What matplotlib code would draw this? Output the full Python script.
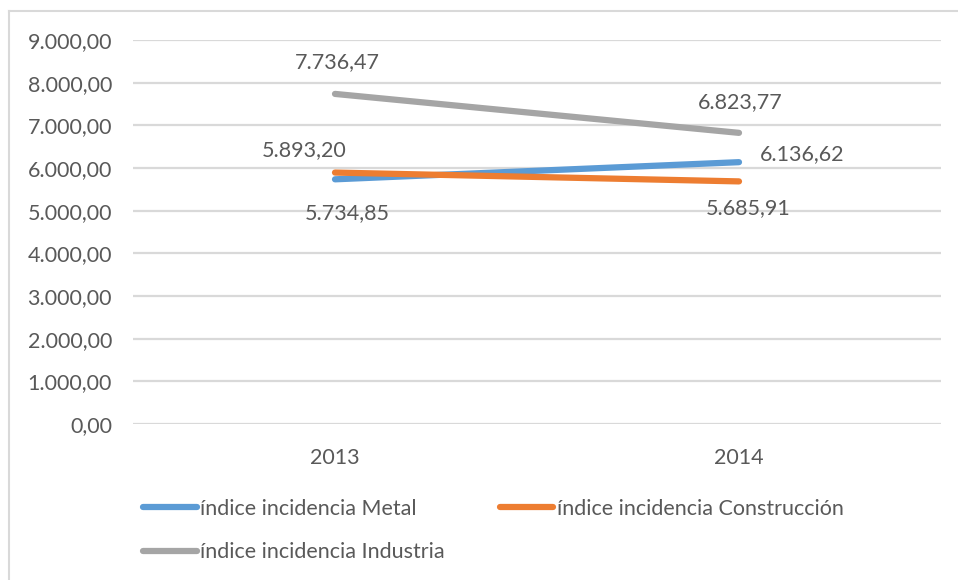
import matplotlib
matplotlib.use("Agg")
import matplotlib.pyplot as plt
from matplotlib.lines import Line2D

# ---- data ----
years = ["2013", "2014"]
metal = [5734.85, 6136.62]
construccion = [5893.20, 5685.91]
industria = [7736.47, 6823.77]
series_names = ["índice incidencia Metal", "índice incidencia Construcción", "índice incidencia Industria"]
y_ticks = [0, 1000, 2000, 3000, 4000, 5000, 6000, 7000, 8000, 9000]

# ---- style ----
colors = ["#5B9BD5", "#ED7D31", "#A5A5A5"]
text_color = "#595959"
grid_color = "#D9D9D9"
plt.rcParams['font.family'] = ['Lato', 'DejaVu Sans']
fs = 15.5


def es_fmt(v):
    s = f"{v:,.2f}"
    return s.replace(",", "X").replace(".", ",").replace("X", ".")


fig = plt.figure(figsize=(9.58, 5.80), dpi=100)
W, H = 958, 580
ax = fig.add_axes([133 / W, 1 - 424 / H, (941 - 133) / W, (424 - 40) / H])

x = list(range(len(years)))
all_series = [metal, construccion, industria]
for vals, c, name in zip(all_series, colors, series_names):
    ax.plot(x, vals, color=c, lw=4.5, solid_capstyle="round", label=name, zorder=3)

# data label offsets in pixels (dx, dy, ha)
offsets = [
    [(12, -34, "center"), (21, 8, "left")],
    [(-31, 22, "center"), (9, -27, "center")],
    [(2, 32, "center"), (1, 31, "center")],
]
for vals, offs in zip(all_series, offsets):
    for xi, v, (dx, dy, ha) in zip(x, vals, offs):
        ax.annotate(es_fmt(v), (xi, v), xytext=(dx, dy), textcoords="offset pixels",
                    ha=ha, va="center", fontsize=fs, color=text_color, zorder=4)

ax.set_xlim(-0.5, len(years) - 0.5)
ax.set_ylim(0, 9000)
ax.set_yticks(y_ticks)
ax.set_yticklabels([es_fmt(t) for t in y_ticks])
ax.set_xticks(x)
ax.set_xticklabels(years)
ax.tick_params(axis="both", length=0, labelsize=fs, labelcolor=text_color)
ax.tick_params(axis="y", pad=21 * 72 / 100)
ax.tick_params(axis="x", pad=24 * 72 / 100)
ax.grid(axis="y", color=grid_color, lw=1.6, zorder=0)
ax.set_axisbelow(True)
for sp in ax.spines.values():
    sp.set_visible(False)

# outer chart border (top and left visible)
fig.add_artist(Line2D([8.5 / W, 8.5 / W], [0, 1 - 11 / H], transform=fig.transFigure, color=grid_color, lw=1.5))
fig.add_artist(Line2D([8.5 / W, 1], [1 - 11 / H, 1 - 11 / H], transform=fig.transFigure, color=grid_color, lw=1.5))

handles, labels = ax.get_legend_handles_labels()
order = [0, 2, 1]
leg = fig.legend([handles[i] for i in order], [labels[i] for i in order],
                 ncol=2, loc="upper left", bbox_to_anchor=(143 / W, 1 - 499 / H),
                 frameon=False, fontsize=fs, labelcolor=text_color,
                 handlelength=2.5, handletextpad=0.15, columnspacing=2.55,
                 labelspacing=1.08, borderaxespad=0, borderpad=0)

fig.savefig("out.png", dpi=100, facecolor="white")
